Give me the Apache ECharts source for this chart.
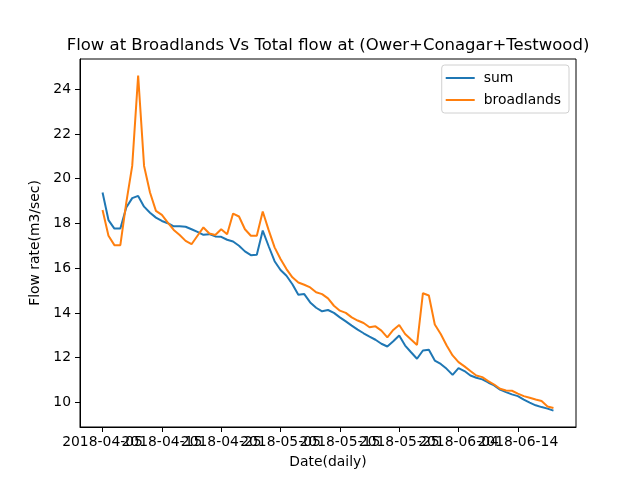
<!DOCTYPE html>
<html>
<head>
<meta charset="utf-8">
<script src="https://cdn.jsdelivr.net/npm/echarts@6/dist/echarts.min.js"></script>
<style>
    html, body { margin: 0; padding: 0; background: #fff; }
    #main { width: 640px; height: 480px; }
</style>
</head>
<body>
<div id="main"></div>
<script type="text/javascript">
    // daily readings starting 2018-04-05 (day 0)
    var sumFlow = [19.38, 18.15, 17.77, 17.77, 18.71, 19.13, 19.23, 18.75, 18.48, 18.26,
        18.11, 18.01, 17.87, 17.87, 17.85, 17.74, 17.62, 17.49, 17.52, 17.42,
        17.40, 17.27, 17.19, 17.00, 16.75, 16.58, 16.60, 17.68, 16.98, 16.31,
        15.92, 15.66, 15.28, 14.81, 14.84, 14.47, 14.23, 14.07, 14.13, 14.00,
        13.80, 13.62, 13.43, 13.25, 13.09, 12.94, 12.80, 12.62, 12.50, 12.73,
        12.99, 12.54, 12.24, 11.95, 12.32, 12.35, 11.87, 11.72, 11.50, 11.23,
        11.53, 11.40, 11.20, 11.10, 11.03, 10.89, 10.76, 10.57, 10.46, 10.36,
        10.28, 10.12, 9.99, 9.87, 9.79, 9.72, 9.63];
    var broadlands = [18.60, 17.45, 17.03, 17.03, 18.93, 20.57, 24.61, 20.57, 19.38, 18.56,
        18.38, 18.04, 17.71, 17.48, 17.22, 17.07, 17.45, 17.82, 17.55, 17.48,
        17.74, 17.52, 18.44, 18.31, 17.74, 17.45, 17.45, 18.53, 17.70, 16.93,
        16.41, 15.96, 15.59, 15.36, 15.26, 15.14, 14.92, 14.84, 14.65, 14.32,
        14.10, 14.00, 13.80, 13.66, 13.55, 13.36, 13.40, 13.21, 12.91, 13.24,
        13.46, 13.06, 12.81, 12.57, 14.88, 14.78, 13.48, 13.06, 12.54, 12.10,
        11.80, 11.61, 11.40, 11.20, 11.13, 10.95, 10.80, 10.61, 10.53, 10.52,
        10.39, 10.28, 10.21, 10.13, 10.06, 9.82, 9.75];
    var xTickDays = [0, 10, 20, 30, 40, 50, 60, 70];
    var xTickLabels = ['2018-04-05', '2018-04-15', '2018-04-25', '2018-05-05',
        '2018-05-15', '2018-05-25', '2018-06-04', '2018-06-14'];
    var yTicks = [10, 12, 14, 16, 18, 20, 22, 24];

    function pairs(arr) {
        var out = [];
        for (var i = 0; i < arr.length; i++) out.push([i, arr[i]]);
        return out;
    }
    function dayLabel(v) {
        var k = xTickDays.indexOf(Math.round(v));
        return k >= 0 ? xTickLabels[k] : '';
    }

    // labels overlap like in the original, so split them over two stacked axes
    var evenDays = xTickDays.filter(function (d, i) { return i % 2 === 0; });
    var oddDays = xTickDays.filter(function (d, i) { return i % 2 === 1; });

    var font = 'DejaVu Sans';
    var labelStyle = { fontFamily: font, fontSize: 13.9, color: '#000' };
    var chart = echarts.init(document.getElementById('main'));
    var option = {
        animation: false,
        backgroundColor: '#fff',
        textStyle: { fontFamily: font },
        title: {
            text: 'Flow at Broadlands Vs Total flow at (Ower+Conagar+Testwood)',
            left: 323,
            top: 32,
            textAlign: 'center',
            textStyle: { fontFamily: font, fontSize: 16.5, fontWeight: 'normal', color: '#000' }
        },
        legend: {
            orient: 'vertical',
            right: 71,
            top: 65,
            padding: [6, 8, 6, 4],
            itemGap: 8,
            itemWidth: 29,
            itemHeight: 2,
            icon: 'rect',
            borderColor: '#d0d0d0',
            borderWidth: 1,
            borderRadius: 3,
            backgroundColor: 'rgba(255,255,255,0.8)',
            textStyle: { fontFamily: font, fontSize: 13.9, color: '#000', padding: [0, 0, 0, 4] },
            data: ['sum', 'broadlands']
        },
        grid: {
            left: 80, right: 64, top: 59, bottom: 53,
            show: true, borderColor: '#000', borderWidth: 1, backgroundColor: 'transparent'
        },
        xAxis: [
            {
                type: 'value',
                position: 'bottom',
                min: -3.8,
                max: 79.8,
                name: 'Date(daily)',
                nameLocation: 'middle',
                nameGap: 28,
                nameTextStyle: labelStyle,
                axisLine: { onZero: false, lineStyle: { color: '#000', width: 1 } },
                axisTick: { show: true, length: 5, customValues: xTickDays, lineStyle: { color: '#000' } },
                axisLabel: {
                    customValues: evenDays,
                    showMinLabel: true,
                    showMaxLabel: true,
                    margin: 8,
                    fontFamily: font, fontSize: 13.9, color: '#000',
                    formatter: dayLabel
                },
                splitLine: { show: false }
            },
            {
                type: 'value',
                position: 'bottom',
                offset: 0,
                min: -3.8,
                max: 79.8,
                axisLine: { show: false, onZero: false },
                axisTick: { show: false },
                axisLabel: {
                    customValues: oddDays,
                    showMinLabel: true,
                    showMaxLabel: true,
                    margin: 8,
                    fontFamily: font, fontSize: 13.9, color: '#000',
                    formatter: dayLabel
                },
                splitLine: { show: false }
            }
        ],
        yAxis: {
            type: 'value',
            min: 8.9,
            max: 25.35,
            name: 'Flow rate(m3/sec)',
            nameLocation: 'middle',
            nameGap: 30,
            nameTextStyle: labelStyle,
            axisLine: { show: true, onZero: false, lineStyle: { color: '#000', width: 1 } },
            axisTick: { show: true, length: 5, customValues: yTicks, lineStyle: { color: '#000' } },
            axisLabel: {
                customValues: yTicks,
                showMinLabel: true,
                showMaxLabel: true,
                margin: 9,
                fontFamily: font, fontSize: 13.9, color: '#000'
            },
            splitLine: { show: false }
        },
        series: [
            {
                name: 'sum',
                type: 'line',
                showSymbol: false,
                symbol: 'none',
                color: '#1f77b4',
                lineStyle: { width: 2, color: '#1f77b4' },
                data: pairs(sumFlow)
            },
            {
                name: 'broadlands',
                type: 'line',
                showSymbol: false,
                symbol: 'none',
                color: '#ff7f0e',
                lineStyle: { width: 2, color: '#ff7f0e' },
                data: pairs(broadlands)
            }
        ]
    };
    chart.setOption(option);
</script>
</body>
</html>
